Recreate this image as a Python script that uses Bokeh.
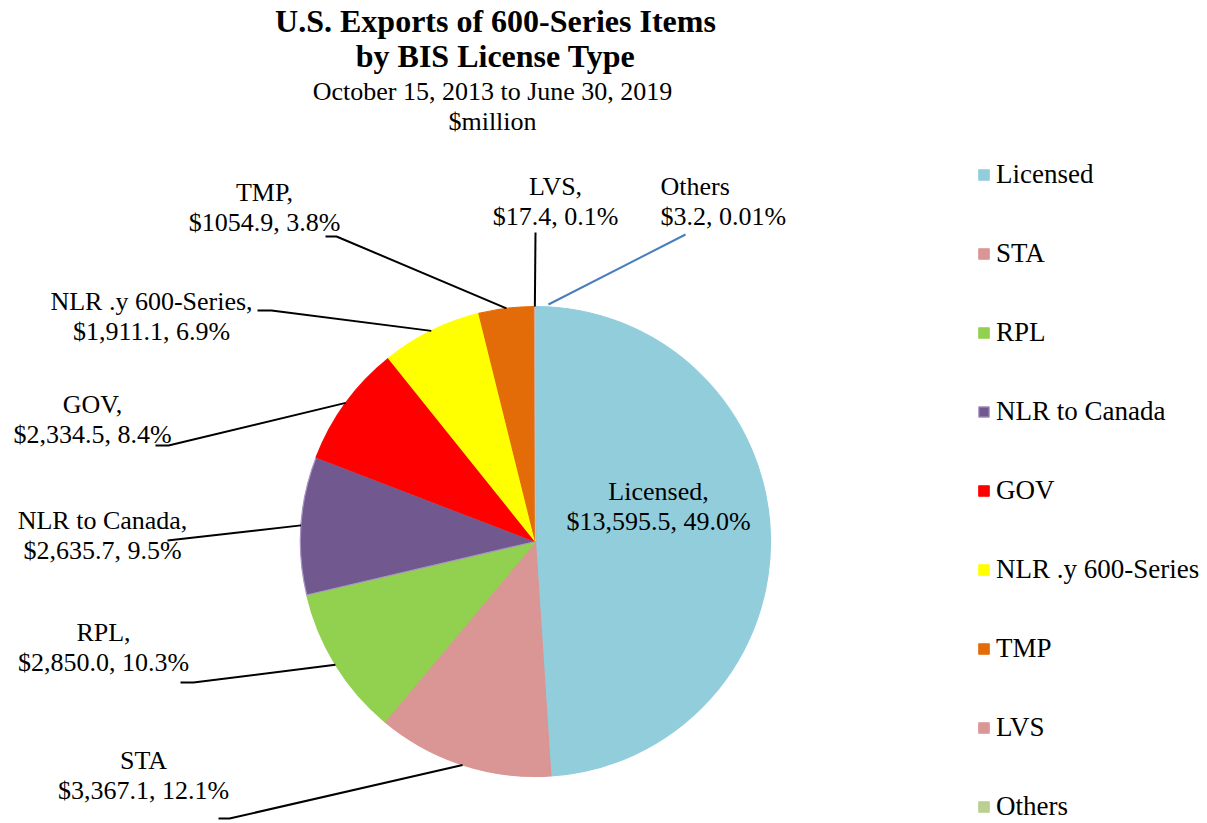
import math
from bokeh.plotting import figure
from bokeh.models import ColumnDataSource, Range1d, Legend, LegendItem
from bokeh.embed import file_html
from bokeh.resources import INLINE
from bokeh.core.properties import value

# ---------------- data ----------------
categories = ["Licensed", "STA", "RPL", "NLR to Canada", "GOV",
              "NLR .y 600-Series", "TMP", "LVS", "Others"]
values = [13595.5, 3367.1, 2850.0, 2635.7, 2334.5, 1911.1, 1054.9, 17.4, 3.2]
shares = [49.0, 12.1, 10.3, 9.5, 8.4, 6.9, 3.8, 0.1, 0.01]
name_labels = ["Licensed,", "STA", "RPL,", "NLR to Canada,", "GOV,",
               "NLR .y 600-Series,", "TMP,", "LVS,", "Others"]
value_labels = ["$13,595.5", "$3,367.1", "$2,850.0", "$2,635.7", "$2,334.5",
                "$1,911.1", "$1054.9", "$17.4", "$3.2"]
title_lines = ["U.S. Exports of 600-Series Items", "by BIS License Type"]
subtitle_lines = ["October 15, 2013 to June 30, 2019", "$million"]

# ---------------- styles ----------------
colors = ["#92CDDC", "#D99694", "#92D050", "#71588F", "#FF0000",
          "#FFFF00", "#E36C09", "#D99694", "#B9D08F"]
edge_colors = ["#92CDDC", "#D99694", "#92D050", "#A995C4", "#FF0000",
               "#FFFF00", "#E36C09", "#D99694", "#B9D08F"]
FONT = "Liberation Serif"
W, H = 1205, 822
CX, CY, R = 535, 541, 235          # pie centre / radius in page pixels

# label layout (page pixels): x, y of first line, alignment
label_layout = {
    "Licensed": (658, 491, "center"),
    "STA": (143, 760, "center"),
    "RPL": (103, 632, "center"),
    "NLR to Canada": (102, 520, "center"),
    "GOV": (92, 404, "center"),
    "NLR .y 600-Series": (151, 301, "center"),
    "TMP": (264, 192, "center"),
    "LVS": (555, 186, "center"),
    "Others": (660, 186, "left"),
}
# leader-line start points near the labels (page pixels)
leader_layout = {
    "STA": [(218, 818), (229, 818)],
    "RPL": [(180, 682), (193, 682)],
    "NLR to Canada": [(167, 540)],
    "GOV": [(155, 445), (168, 445)],
    "NLR .y 600-Series": [(257, 310), (271, 310)],
    "TMP": [(325, 236), (336, 236)],
    "LVS": [(535, 232)],
    "Others": [(685, 234)],
}
tip_nudge = {"Others": (13, -2)}   # leader tip offset (page pixels)
LINE_H = 30

# ---------------- figure ----------------
p = figure(width=W, height=H, output_backend="svg", toolbar_location=None,
           x_range=Range1d(0, W), y_range=Range1d(-H, 0),
           x_axis_type=None, y_axis_type=None, min_border=0)
p.grid.visible = False
p.outline_line_color = None
p.background_fill_color = "white"

total = sum(values)
starts, ends, mids = [], [], []
cum = 0.0
for v in values:
    a0 = math.pi / 2 - 2 * math.pi * cum / total
    cum += v
    a1 = math.pi / 2 - 2 * math.pi * cum / total
    starts.append(a0)
    ends.append(a1)
    mids.append((a0 + a1) / 2)

src = ColumnDataSource(dict(cat=categories, val=values, start=starts, end=ends,
                            color=colors, edge=edge_colors))
wr = p.wedge(x=CX, y=-CY, radius=R, start_angle="start", end_angle="end",
             direction="clock", fill_color="color", line_color="edge",
             line_width=1.2, source=src)

# leader lines
xs, ys, lc = [], [], []
for i, c in enumerate(categories):
    if c not in leader_layout:
        continue
    pts = leader_layout[c]
    dx, dy = tip_nudge.get(c, (0, 0))
    tx = CX + R * math.cos(mids[i]) + dx
    ty = CY - R * math.sin(mids[i]) + dy
    xs.append([q[0] for q in pts] + [tx])
    ys.append([-q[1] for q in pts] + [-ty])
    lc.append("#4A7EBB" if c == "Others" else "black")
p.multi_line(xs=xs, ys=ys, line_color=lc, line_width=2)

# data labels
for align in ("center", "left"):
    lx, ly, lt = [], [], []
    for i, c in enumerate(categories):
        x, y, a = label_layout[c]
        if a != align:
            continue
        pct = f"{shares[i]:g}%" if shares[i] < 0.1 else f"{shares[i]:.1f}%"
        lx += [x, x]
        ly += [-y, -(y + LINE_H)]
        lt += [name_labels[i], f"{value_labels[i]}, {pct}"]
    p.text(x=lx, y=ly, text=lt, text_font=value(FONT), text_font_size="26px",
           text_align=align, text_baseline="middle", text_color="black")

# titles
p.text(x=[495, 495], y=[-20, -55], text=title_lines, text_font=value(FONT),
       text_font_size="32px", text_font_style="bold", text_align="center",
       text_baseline="middle", text_color="black")
p.text(x=[492, 492], y=[-91, -121], text=subtitle_lines, text_font=value(FONT),
       text_font_size="26px", text_align="center", text_baseline="middle",
       text_color="black")

# legend
legend = Legend(items=[LegendItem(label=c, renderers=[wr], index=i)
                       for i, c in enumerate(categories)],
                location=(977, H - 822), orientation="vertical",
                label_text_font=FONT, label_text_font_size="27px",
                label_text_color="black", label_height=30,
                glyph_height=13, glyph_width=13, spacing=48,
                label_standoff=6, padding=0, margin=0,
                background_fill_alpha=0, border_line_alpha=0)
p.add_layout(legend)

open("out.html", "w").write(file_html(p, INLINE))
